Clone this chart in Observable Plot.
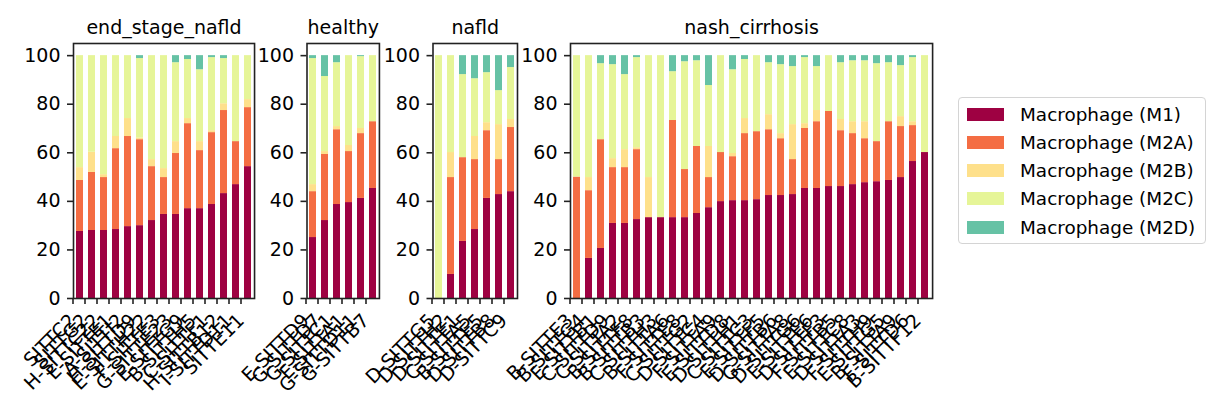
<!DOCTYPE html>
<html><head><meta charset="utf-8">
<script src="https://cdn.jsdelivr.net/npm/d3@7"></script>
<script src="https://cdn.jsdelivr.net/npm/@observablehq/plot@0.6"></script>
<style>
body{margin:0;background:#fff;font-family:"DejaVu Sans",sans-serif;}
#wrap{position:relative;width:1220px;height:420px;overflow:hidden;background:#fff}
#wrap svg{position:absolute;left:0;top:0;}
.legend{position:absolute;left:958px;top:97px;width:248px;height:147px;border:1.5px solid #d4d4d4;border-radius:4px;box-sizing:border-box;background:#fff}
.item{position:absolute;left:8px;height:28px;display:flex;align-items:center;font-size:18.4px;color:#000;white-space:nowrap}
.sw{width:37px;height:13px;margin-right:16px}
</style></head><body><div id="wrap"></div>
<script>
// ---- data ----
const panels = ["end_stage_nafld", "healthy", "nafld", "nash_cirrhosis"];
const endStageSamples = ["SITTC2","SITTG2","H-SITTC22","E-SITTE1","A-SITTI2","H-SITTD9","E-SITTH22","F-SITTE3","G-SITTE23","E-SITTG9","B-SITTH5","C-SITTF1","H-SITTB12","I-SITTD11","SITTE11"];
const healthySamples = ["E-SITTD9","G-SITTD7","G-SITTC1","E-SITTA1","G-SITTD11","G-SITTB7"];
const nafldSamples = ["D-SITTG5","D-SITTH2","D-SITTE1","C-SITTA5","B-SITTE5","D-SITTB8","D-SITTC9"];
const nashSamples = ["B-SITTE3","B-SITTG4","E-SITTB1","C-SITTD9","C-SITTA2","B-SITTF8","B-SITTB3","C-SITTH3","B-SITTA6","F-SITTE8","C-SITTG2","D-SITTC4","F-SITTA9","E-SITTD8","D-SITTH1","C-SITTC3","E-SITTF5","D-SITTB6","G-SITTA8","D-SITTG6","E-SITTE6","D-SITTF3","F-SITTB5","E-SITTC8","D-SITTA3","F-SITTH9","E-SITTG5","B-SITTA9","F-SITTD6","B-SITTF12"];

const cellTypes = ["Macrophage (M1)","Macrophage (M2A)","Macrophage (M2B)","Macrophage (M2C)","Macrophage (M2D)"];
const colors = ["#9e0142","#f46d43","#fee08b","#e6f598","#66c2a5"];
const yTicks = [0, 20, 40, 60, 80, 100];

// values in sample order: end_stage (15), healthy (6), nafld (7), nash (30)
const m1 = [27.6,28.0,28.0,28.4,29.6,30.0,32.1,34.6,34.6,37.0,37.0,38.7,43.2,46.9,54.3,
  25.1,32.1,38.7,39.5,41.2,45.3,
  0,9.9,23.5,28.4,41.2,42.8,44.0,
  0,16.5,20.6,30.9,30.9,32.5,33.3,33.3,33.3,33.3,35.0,37.4,39.9,40.3,40.3,40.7,42.4,42.4,42.8,45.3,45.3,46.1,46.1,46.9,47.7,48.1,48.6,49.8,56.4,60.1];
const m2a = [21.0,23.9,21.8,33.3,37.1,35.4,22.2,15.2,25.1,35.0,23.9,29.6,34.2,17.7,24.3,
  18.9,27.2,30.8,21.0,26.7,27.5,
  0,39.9,34.5,28.8,27.9,14.4,26.4,
  50.0,27.9,44.8,23.0,23.0,28.8,0,0,40.0,19.8,27.6,12.4,20.2,18.1,27.6,28.0,27.1,23.4,14.4,24.7,27.5,30.9,23.0,21.0,18.1,16.5,24.2,21.0,14.8,0];
const m2b = [5.3,8.3,1.2,5.0,7.4,0.7,2.9,3.7,4.9,2.1,3.7,0.8,2.8,0,3.3,
  2.9,1.2,1.3,2.5,2.1,0,
  0,10.3,0,9.5,3.3,14.4,3.3,
  0,5.4,0,3.7,7.4,0.8,16.5,0,0,0,0,12.8,0,1.3,6.2,0,6.2,2.1,14.4,2.0,4.6,0,4.6,4.9,7.0,0,0,4.1,1.6,0];
const m2c = [46.1,39.8,49.0,33.3,25.9,32.7,42.8,46.5,32.5,24.3,29.6,30.1,18.6,35.4,18.1,
  51.9,30.9,26.3,37.0,29.6,27.2,
  100,39.9,34.2,23.8,20.6,14.0,21.4,
  50.0,50.2,31.3,38.7,30.9,37.1,50.2,66.7,20.1,44.4,35.3,25.1,39.9,34.5,24.3,31.3,21.4,28.4,23.9,27.2,18.1,23.0,23.4,25.1,25.1,32.1,24.3,21.0,26.4,39.9];
const m2d = [0,0,0,0,0,1.2,0,0,2.9,1.6,5.8,0.8,1.2,0,0,
  1.2,8.6,2.9,0,0.4,0,
  0,0,7.8,9.5,7.0,14.4,4.9,
  0,0,3.3,3.7,7.8,0.8,0,0,6.6,2.5,2.1,12.3,0,5.8,1.6,0,2.9,3.7,4.5,0.8,4.5,0,2.9,2.1,2.1,3.3,2.9,4.1,0.8,0];

// ---- build table ----
const groupSamples = [endStageSamples, healthySamples, nafldSamples, nashSamples];
const series = [m1, m2a, m2b, m2c, m2d];
const rows = [];
let k = 0;
groupSamples.forEach((samples, g) => {
  samples.forEach(s => {
    cellTypes.forEach((t, j) => rows.push({group: panels[g], sample: s, type: t, value: series[j][k]}));
    k++;
  });
});

// ---- layout ----
const W = 1220, H = 420, mTop = 43, mBottom = 122, step = 12.07;
const lefts = [73, 306.5, 432.5, 570];
const wrap = document.getElementById("wrap");

panels.forEach((p, g) => {
  const L = lefts[g], R = L + groupSamples[g].length * step;
  const data = rows.filter(d => d.group === p);
  const svg = Plot.plot({
    width: W, height: H,
    marginLeft: L, marginRight: W - R, marginTop: mTop, marginBottom: mBottom,
    style: {background: "transparent", overflow: "visible", fontFamily: "DejaVu Sans, sans-serif", color: "#000"},
    x: {type: "band", domain: groupSamples[g], paddingInner: 0.4, paddingOuter: 0.2, label: null},
    y: {domain: [0, 105], label: null},
    color: {domain: cellTypes, range: colors},
    marks: [
      Plot.barY(data, {x: "sample", y: "value", fill: "type", order: cellTypes}),
      Plot.axisY({ticks: yTicks, tickSize: 6, tickPadding: 7, fontSize: 19, stroke: "#222", strokeWidth: 1.6, label: null}),
      Plot.axisX({tickSize: 6, tickPadding: 13, dx: -7, tickRotate: -45, fontSize: 19, stroke: "#222", strokeWidth: 1.6, label: null}),
      Plot.frame({stroke: "#222", strokeWidth: 1.6}),
      Plot.text([p], {text: d => d, frameAnchor: "top", lineAnchor: "bottom", dy: -10, fontSize: 19, fill: "#000"})
    ]
  });
  wrap.appendChild(svg);
});

// ---- legend ----
const leg = document.createElement("div");
leg.className = "legend";
cellTypes.forEach((t, i) => {
  const it = document.createElement("div");
  it.className = "item";
  it.style.top = (2 + i * 28.3) + "px";
  const sw = document.createElement("div");
  sw.className = "sw"; sw.style.background = colors[i];
  const tx = document.createElement("span");
  tx.textContent = t;
  it.appendChild(sw); it.appendChild(tx);
  leg.appendChild(it);
});
wrap.appendChild(leg);
</script>
</body></html>
